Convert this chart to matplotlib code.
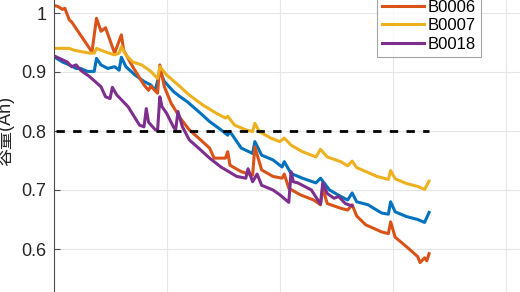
import matplotlib
matplotlib.use("Agg")
import matplotlib.pyplot as plt
from matplotlib.ticker import FormatStrFormatter

plt.rcParams['font.family'] = ['Liberation Sans', 'Noto Sans CJK SC', 'DejaVu Sans']

# capacity curves (cycle, capacity in Ah)
b0005_cycle = [1, 4, 7, 10, 12, 15, 18, 19, 21, 24, 27, 29, 30, 32, 36, 40, 43, 45, 47, 49,
               53, 56, 59, 65, 69, 74, 77, 78, 83, 88, 89, 92, 97, 101, 102, 105, 110, 116,
               118, 122, 127, 130, 132, 134, 139, 145, 148, 149, 151, 156, 161, 164, 166]
b0005_cap = [0.924, 0.917, 0.912, 0.906, 0.906, 0.901, 0.901, 0.923, 0.912, 0.906, 0.909,
             0.903, 0.925, 0.909, 0.895, 0.884, 0.878, 0.869, 0.901, 0.884, 0.867, 0.858,
             0.850, 0.830, 0.816, 0.802, 0.793, 0.799, 0.771, 0.762, 0.782, 0.759, 0.751,
             0.739, 0.748, 0.728, 0.720, 0.712, 0.720, 0.700, 0.689, 0.683, 0.695, 0.680,
             0.675, 0.661, 0.659, 0.680, 0.663, 0.655, 0.650, 0.645, 0.662]

b0006_cycle = [1, 2, 4, 5, 7, 8, 17, 19, 21, 22, 23, 27, 30, 31, 35, 40, 42, 43, 46, 47,
               49, 52, 56, 60, 65, 69, 71, 76, 77, 78, 83, 88, 89, 92, 97, 101, 102, 104,
               109, 115, 118, 119, 121, 127, 130, 132, 134, 138, 145, 148, 149, 151, 156,
               161, 162, 164, 165, 166]
b0006_cap = [1.012, 1.011, 1.006, 1.008, 0.988, 0.985, 0.934, 0.991, 0.969, 0.972, 0.975,
             0.932, 0.963, 0.937, 0.909, 0.878, 0.869, 0.876, 0.864, 0.912, 0.875, 0.847,
             0.822, 0.802, 0.785, 0.771, 0.754, 0.754, 0.765, 0.742, 0.731, 0.725, 0.773,
             0.734, 0.723, 0.720, 0.727, 0.703, 0.692, 0.683, 0.675, 0.703, 0.677, 0.669,
             0.666, 0.675, 0.656, 0.641, 0.629, 0.626, 0.646, 0.620, 0.604, 0.587, 0.577,
             0.585, 0.580, 0.592]

b0007_cycle = [1, 7, 9, 13, 16, 18, 19, 23, 27, 29, 30, 32, 35, 39, 43, 46, 47, 50, 56,
               60, 66, 72, 76, 77, 80, 85, 88, 89, 91, 96, 100, 102, 105, 110, 116, 118,
               121, 127, 130, 132, 134, 143, 148, 149, 151, 156, 161, 164, 166]
b0007_cap = [0.940, 0.940, 0.937, 0.934, 0.932, 0.932, 0.940, 0.934, 0.929, 0.932, 0.943,
             0.929, 0.917, 0.912, 0.901, 0.889, 0.909, 0.895, 0.875, 0.861, 0.844, 0.830,
             0.822, 0.825, 0.810, 0.802, 0.799, 0.813, 0.799, 0.788, 0.782, 0.788, 0.776,
             0.765, 0.756, 0.769, 0.756, 0.748, 0.741, 0.749, 0.738, 0.723, 0.718, 0.733,
             0.719, 0.711, 0.706, 0.701, 0.715]

b0018_cycle = [1, 6, 8, 10, 12, 16, 21, 23, 25, 26, 28, 33, 38, 40, 41, 42, 45, 46, 47,
               48, 50, 53, 54, 55, 57, 60, 65, 69, 74, 81, 85, 86, 88, 90, 92, 97, 100,
               104, 105, 106, 108, 114, 118, 119, 121, 124, 126, 129, 132]
b0018_cap = [0.926, 0.917, 0.909, 0.912, 0.903, 0.892, 0.875, 0.858, 0.855, 0.874, 0.861,
             0.841, 0.810, 0.807, 0.838, 0.815, 0.802, 0.801, 0.858, 0.841, 0.830, 0.807,
             0.802, 0.833, 0.807, 0.785, 0.768, 0.754, 0.739, 0.723, 0.720, 0.736, 0.714,
             0.727, 0.708, 0.700, 0.692, 0.679, 0.731, 0.714, 0.712, 0.700, 0.676, 0.712,
             0.694, 0.686, 0.689, 0.677, 0.673]

threshold = 0.8
threshold_end = 166
labels = ['B0005', 'B0006', 'B0007', 'B0018']
colors = ['#0072bd', '#d95319', '#edb120', '#7e2f8e']
yticks = [0.6, 0.7, 0.8, 0.9, 1.0]

W, H = 520, 292
fig = plt.figure(figsize=(W / 100, H / 100), dpi=100)
# axes deliberately runs past the figure edges (cropped view)
x0, x1 = 53.5, 520
y_top, y_bot = -46, 308
ax = fig.add_axes([x0 / W, 1 - y_bot / H, (x1 - x0) / W, (y_bot - y_top) / H])

series = [(b0005_cycle, b0005_cap), (b0006_cycle, b0006_cap),
          (b0007_cycle, b0007_cap), (b0018_cycle, b0018_cap)]
for (cx, cy), lab, col in zip(series, labels, colors):
    ax.plot(cx, cy, color=col, lw=2.2, label=lab, solid_joinstyle='round')

ax.plot([1, threshold_end], [threshold, threshold], color='black', lw=2,
        dashes=(3, 3))

ax.set_xlim(0, (x1 - x0) / 2.2625)
ax.set_ylim(0.5, 1.1)
ax.set_xticks([0, 50, 100, 150, 200])
ax.set_yticks(yticks)
ax.yaxis.set_major_formatter(FormatStrFormatter('%g'))
ax.grid(True, color='#e6e6e6', lw=0.8)
ax.set_axisbelow(True)
for s in ['top', 'right', 'bottom']:
    ax.spines[s].set_visible(False)
ax.spines['left'].set_color('#4d4d4d')
ax.tick_params(axis='y', direction='in', length=4, colors='#4d4d4d',
               labelcolor='#262626', labelsize=13, pad=5)
ax.tick_params(axis='x', length=0, labelbottom=False)
ax.set_ylabel('容量(Ah)', fontsize=13, color='#262626', labelpad=5)

leg = ax.legend(loc='lower right', bbox_to_anchor=(481 / W, 1 - 57 / H),
                bbox_transform=fig.transFigure, fontsize=12, frameon=True,
                fancybox=False, handlelength=2.5, handletextpad=0.25,
                labelspacing=0.22, borderpad=0.3, borderaxespad=0)
leg.get_frame().set_edgecolor('#8c8c8c')
leg.get_frame().set_linewidth(0.8)

fig.savefig('out.png', dpi=100)
